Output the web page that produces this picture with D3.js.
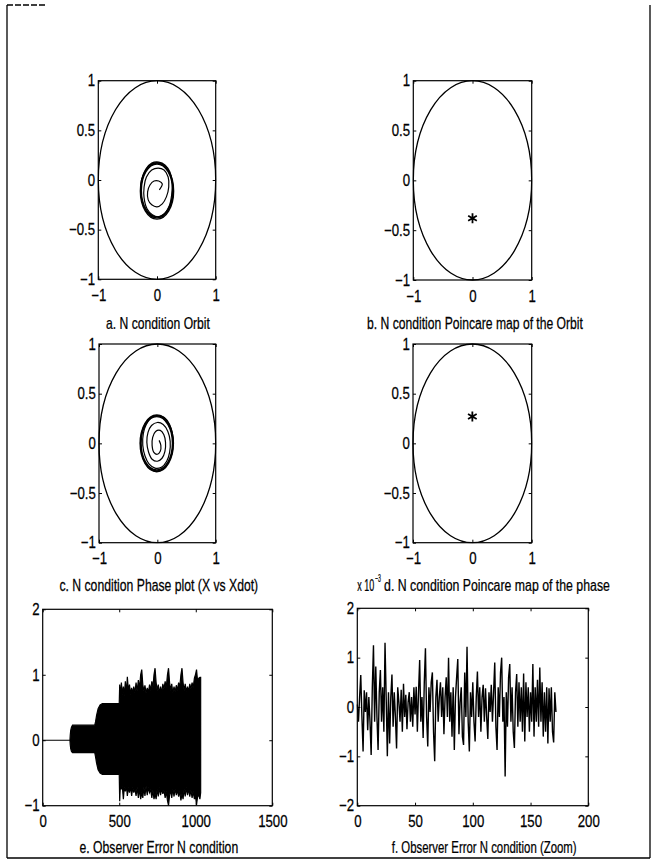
<!DOCTYPE html>
<html><head><meta charset="utf-8">
<script src="https://cdn.jsdelivr.net/npm/d3@7"></script>
<style>body{margin:0;background:#fff}</style>
</head><body><svg id="c" width="654" height="861"></svg>
<script>
// ---------- DATA ----------
const circleXTicks = [-1, 0, 1];
const circleYTicks = [-1, -0.5, 0, 0.5, 1];
const errXTicks = [0, 500, 1000, 1500];
const errYTicks = [-1, 0, 1, 2];
const zoomXTicks = [0, 50, 100, 150, 200];
const zoomYTicks = [-2, -1, 0, 1, 2];

const unitRadius = 1;

// a. orbit: transient spiral, then limit-cycle rings
const orbitX = [0.04,0.09,0.03,-0.05,-0.12,-0.16,-0.15,-0.09,0.0,0.09,0.16,0.2,0.19,0.12,0.02,-0.09,-0.18,-0.22,-0.22,-0.17,-0.08,0.03,0.13,0.21,0.25,0.26,0.22,0.14,0.03,-0.09,-0.19,-0.26,-0.28];
const orbitY = [-0.1,-0.04,-0.01,-0.01,-0.05,-0.12,-0.2,-0.25,-0.27,-0.24,-0.17,-0.07,0.03,0.1,0.12,0.1,0.03,-0.07,-0.18,-0.29,-0.35,-0.37,-0.34,-0.26,-0.15,-0.03,0.08,0.15,0.18,0.17,0.11,0.01,-0.1];
const orbitRingCx = [0, 0, 0];
const orbitRingCy = [-0.105, -0.105, -0.11];
const orbitRingR = [0.266, 0.276, 0.284];

// b. Poincare map of the orbit
const poincareOrbitX = [0];
const poincareOrbitY = [-0.38];

// c. phase plot spiral + rings
const phaseX = [0.03,0.06,0.05,0.0,-0.06,-0.09,-0.08,-0.03,0.05,0.11,0.14,0.13,0.08,0.0,-0.09,-0.15,-0.18,-0.16,-0.1,0.0,0.1,0.18,0.22,0.21,0.16,0.07,-0.04,-0.14,-0.21,-0.25,-0.24,-0.19,-0.1,0.01,0.12,0.21,0.26,0.27];
const phaseY = [0.03,-0.02,-0.08,-0.11,-0.09,-0.02,0.06,0.12,0.13,0.09,0.01,-0.08,-0.15,-0.18,-0.16,-0.09,0.01,0.11,0.18,0.21,0.19,0.12,0.02,-0.09,-0.18,-0.24,-0.25,-0.21,-0.13,-0.02,0.1,0.19,0.26,0.28,0.26,0.19,0.09,-0.02];
const phaseRingCx = [-0.01, -0.01, -0.01];
const phaseRingCy = [0, 0, 0];
const phaseRingR = [0.268, 0.278, 0.286];

// d. Poincare map of the phase
const poincarePhaseX = [0];
const poincarePhaseY = [0.27];

// e. observer error envelope (dense oscillation)
const errT = [0,178,180,183,188,195,340,345,352,362,375,390,500,
  503,508,514,520,527,533,540,547,553,560,567,574,581,588,595,602,610,617,625,632,
  640,647,654,661,668,675,683,690,698,705,713,720,727,734,741,748,755,762,770,777,
  785,792,800,807,815,822,829,836,843,850,858,865,873,880,888,895,903,910,917,924,
  931,938,946,953,961,968,976,983,991,998,1005,1012,1020,1027,1032];
const errUpper = [0,0,0.08,0.15,0.2,0.23,0.23,0.28,0.38,0.48,0.54,0.56,0.56,
  0.85,0.65,0.88,0.70,0.82,0.68,0.90,0.72,0.97,0.75,0.85,0.70,0.80,0.72,0.82,0.72,0.88,0.75,0.92,0.78,
  1.00,1.08,0.85,0.75,0.84,0.72,0.80,0.72,0.85,0.76,0.90,0.80,1.00,1.10,0.88,0.76,0.85,0.72,0.82,0.72,
  0.86,0.78,0.90,0.80,1.00,1.10,0.88,0.76,0.86,0.72,0.82,0.74,0.84,0.76,0.88,0.80,1.00,1.10,0.88,0.76,
  0.86,0.74,0.82,0.74,0.86,0.78,0.88,0.80,0.95,1.00,1.08,0.90,0.95,0.96,0.96];
const errLower = [0,0,-0.07,-0.13,-0.17,-0.19,-0.19,-0.25,-0.35,-0.45,-0.5,-0.52,-0.52,
  -0.93,-0.65,-0.75,-0.70,-0.90,-0.72,-0.78,-0.70,-0.85,-0.72,-0.80,-0.70,-0.85,-0.72,-0.80,-0.74,-0.85,-0.72,-0.88,-0.74,
  -0.90,-0.80,-0.88,-0.72,-0.85,-0.70,-0.84,-0.72,-0.80,-0.75,-0.88,-0.76,-0.90,-0.82,-0.90,-0.74,-0.86,-0.72,-0.84,-0.74,
  -0.82,-0.76,-0.88,-0.78,-0.92,-1.00,-0.84,-0.76,-0.88,-0.74,-0.86,-0.74,-0.84,-0.76,-0.86,-0.78,-0.92,-0.82,-0.90,-0.74,
  -0.86,-0.72,-0.84,-0.74,-0.86,-0.76,-0.88,-0.78,-0.90,-0.85,-0.99,-0.86,-0.84,-0.90,-0.80];

// f. observer error zoom (x 10^-3), one value per sample 0..172
const zoomErr = [
  0.05,-0.3,0.2,0.65,-0.2,-0.9,0.34,-0.1,0.3,-0.47,
  0.2,-0.3,-0.97,0.4,1.25,-0.3,0.82,-0.2,-0.87,0.3,
  0.75,-0.3,0.4,-0.5,1.3,0.2,-1.0,0.3,-0.74,0.2,
  0.66,-0.4,0.3,-0.2,-0.84,0.4,0.1,-0.3,0.35,-0.5,
  0.47,-0.2,0.25,-0.45,0.1,0.3,-0.3,0.2,-0.4,0.4,
  -0.15,0.41,-0.5,0.3,0.95,-0.3,0.2,-0.63,0.5,1.19,
  -0.2,-0.8,0.4,-0.1,0.5,0.7,-0.5,-1.1,0.2,0.55,
  -0.3,0.2,0.5,-0.2,0.4,-0.55,0.2,0.6,-0.2,1.0,
  -0.3,0.3,-0.6,0.4,-0.87,0.2,0.6,0.97,-0.55,0.1,
  0.4,-0.6,-0.77,0.7,-0.2,1.22,-0.3,-0.9,0.3,-0.2,
  0.5,-0.3,-0.7,0.2,0.72,-0.2,0.4,-0.5,0.2,0.45,
  -0.3,0.38,-0.2,-0.65,0.3,-0.1,0.45,-0.3,0.3,0.9,
  -0.4,-0.87,0.4,-0.2,0.7,1.0,-0.3,0.2,-1.41,0.3,
  -0.4,0.6,0.87,-0.3,0.4,-0.5,-0.83,0.3,0.67,-0.4,
  0.5,-0.3,0.4,-0.5,0.68,-0.7,0.5,-0.2,0.4,-0.5,
  0.3,-0.3,0.87,-0.6,0.4,-0.3,0.55,-0.4,0.8,-0.3,
  0.5,-0.6,0.3,-0.5,0.4,-0.74,0.38,-0.3,0.4,-0.5,
  -0.72,0.3,-0.1];

const captions = [
  "a. N condition Orbit",
  "b. N condition Poincare map of the Orbit",
  "c. N condition Phase plot (X vs Xdot)",
  "d. N condition Poincare map of the phase",
  "e. Observer Error N condition",
  "f. Observer Error  N condition (Zoom)"
];

// ---------- DRAW ----------
const FONT = "'Liberation Sans Narrow','Arial Narrow','Liberation Sans',Arial,sans-serif";
const svg = d3.select("#c");
svg.append("rect").attr("width", 654).attr("height", 861).attr("fill", "#fff");

// page frame
const frame = svg.append("g").attr("stroke", "#000").attr("stroke-width", 1.3).attr("fill", "none");
frame.append("line").attr("x1", 7).attr("y1", 5).attr("x2", 7).attr("y2", 858);
frame.append("line").attr("x1", 7).attr("y1", 858).attr("x2", 650).attr("y2", 858);
frame.append("line").attr("x1", 650).attr("y1", 5).attr("x2", 650).attr("y2", 858);
frame.append("line").attr("x1", 7).attr("y1", 5).attr("x2", 45).attr("y2", 5).attr("stroke-dasharray", "6,2");

function panel(x0, x1, y0, y1, xDom, yDom, xT, yT) {
  const x = d3.scaleLinear().domain(xDom).range([x0, x1]);
  const y = d3.scaleLinear().domain(yDom).range([y1, y0]);
  const g = svg.append("g");
  const fmt = d3.format("");
  const style = sel => {
    sel.select(".domain").remove();
    sel.selectAll("line").attr("stroke", "#000");
    sel.attr("font-family", null).attr("font-size", null);
    sel.selectAll("text").attr("font-family", FONT).attr("font-size", 16.5)
      .attr("fill", "#000").attr("stroke", "#000").attr("stroke-width", 0.25)
      .attr("transform", "scale(0.8,1)");
  };
  g.append("g").attr("transform", `translate(0,${y1})`)
    .call(d3.axisBottom(x).tickValues(xT).tickFormat(fmt).tickSizeInner(-3).tickSizeOuter(0).tickPadding(10)).call(style);
  g.append("g").attr("transform", `translate(0,${y0})`)
    .call(d3.axisTop(x).tickValues(xT).tickFormat("").tickSizeInner(-3).tickSizeOuter(0)).call(style);
  g.append("g").attr("transform", `translate(${x0},0)`)
    .call(d3.axisLeft(y).tickValues(yT).tickFormat(fmt).tickSizeInner(-3).tickSizeOuter(0).tickPadding(4)).call(style);
  g.append("g").attr("transform", `translate(${x1},0)`)
    .call(d3.axisRight(y).tickValues(yT).tickFormat("").tickSizeInner(-3).tickSizeOuter(0)).call(style);
  g.append("rect").attr("x", x0).attr("y", y0).attr("width", x1 - x0).attr("height", y1 - y0)
    .attr("fill", "none").attr("stroke", "#000").attr("stroke-width", 1.2);
  const clipId = "clip" + Math.round(x0) + "_" + Math.round(y0);
  svg.append("clipPath").attr("id", clipId).append("rect")
    .attr("x", x0 - 1).attr("y", y0 - 1).attr("width", x1 - x0 + 2).attr("height", y1 - y0 + 2);
  const plot = g.append("g").attr("clip-path", `url(#${clipId})`);
  return {x, y, g, plot};
}

function unitCircle(p) {
  p.plot.append("ellipse")
    .attr("cx", p.x(0)).attr("cy", p.y(0))
    .attr("rx", p.x(unitRadius) - p.x(0)).attr("ry", p.y(0) - p.y(unitRadius))
    .attr("fill", "none").attr("stroke", "#000").attr("stroke-width", 1.3);
}
function rings(p, cx, cy, r) {
  r.forEach((rr, i) => {
    p.plot.append("ellipse")
      .attr("cx", p.x(cx[i])).attr("cy", p.y(cy[i]))
      .attr("rx", p.x(rr) - p.x(0)).attr("ry", p.y(0) - p.y(rr))
      .attr("fill", "none").attr("stroke", "#000").attr("stroke-width", 1.3);
  });
}
function traj(p, xs, ys) {
  const pts = xs.map((v, i) => [v, ys[i]]);
  p.plot.append("path").datum(pts)
    .attr("d", d3.line().x(d => p.x(d[0])).y(d => p.y(d[1])).curve(d3.curveCatmullRom.alpha(0.5)))
    .attr("fill", "none").attr("stroke", "#000").attr("stroke-width", 1.2);
}
function star(p, xs, ys) {
  xs.forEach((v, i) => {
    p.plot.append("path")
      .attr("transform", `translate(${p.x(v)},${p.y(ys[i])})`)
      .attr("d", d3.symbol(d3.symbolAsterisk, 70)())
      .attr("fill", "none").attr("stroke", "#000").attr("stroke-width", 1.8);
  });
}

// a
const pA = panel(98.3, 215.7, 80.7, 279.3, [-1, 1], [-1, 1], circleXTicks, circleYTicks);
unitCircle(pA); traj(pA, orbitX, orbitY); rings(pA, orbitRingCx, orbitRingCy, orbitRingR);
// b
const pB = panel(413.3, 531.7, 80.7, 280, [-1, 1], [-1, 1], circleXTicks, circleYTicks);
unitCircle(pB); star(pB, poincareOrbitX, poincareOrbitY);
// c
const pC = panel(99, 215.7, 344, 542.7, [-1, 1], [-1, 1], circleXTicks, circleYTicks);
unitCircle(pC); traj(pC, phaseX, phaseY); rings(pC, phaseRingCx, phaseRingCy, phaseRingR);
// d
const pD = panel(413, 531.7, 344, 542.7, [-1, 1], [-1, 1], circleXTicks, circleYTicks);
unitCircle(pD); star(pD, poincarePhaseX, poincarePhaseY);
// e
const pE = panel(42.7, 272.3, 609.3, 805.7, [0, 1500], [-1, 2], errXTicks, errYTicks);
const envData = errT.map((t, i) => ({t, u: errUpper[i], l: errLower[i]}));
pE.plot.append("path").datum(envData)
  .attr("d", d3.area().x(d => pE.x(d.t)).y0(d => pE.y(d.l)).y1(d => pE.y(d.u)))
  .attr("fill", "#000").attr("stroke", "#000").attr("stroke-width", 1.2);
// f
const pF = panel(357.3, 588.3, 608.3, 805.7, [0, 200], [-2, 2], zoomXTicks, zoomYTicks);
pF.plot.append("path").datum(zoomErr)
  .attr("d", d3.line().x((d, i) => pF.x(i)).y(d => pF.y(d)))
  .attr("fill", "none").attr("stroke", "#000").attr("stroke-width", 1.4);

// horizontally condensed text placed at (x, y), scaled to width w
function condText(x, y, str, size, w, anchor) {
  const g = svg.append("g");
  const t = g.append("text").attr("x", 0).attr("y", 0)
    .attr("text-anchor", anchor).attr("font-family", FONT).attr("font-size", size)
    .attr("fill", "#000").attr("stroke", "#000").attr("stroke-width", 0.25).text(str);
  const len = t.node().getComputedTextLength();
  g.attr("transform", `translate(${x},${y}) scale(${w / len},1)`);
  return t;
}

// exponent label for f
condText(357.3, 591, "x 10", 16, 17, "start");
condText(375, 582, "\u22123", 11, 6, "start");

// captions
const capPos = [
  {cx: 158, y: 329, w: 104},
  {cx: 475, y: 329, w: 216},
  {cx: 158.8, y: 591, w: 199},
  {cx: 497, y: 591, w: 226},
  {cx: 158.8, y: 853, w: 159},
  {cx: 484.2, y: 853, w: 185}
];
captions.forEach((c, i) => condText(capPos[i].cx, capPos[i].y, c, 16, capPos[i].w, "middle"));
</script></body></html>
